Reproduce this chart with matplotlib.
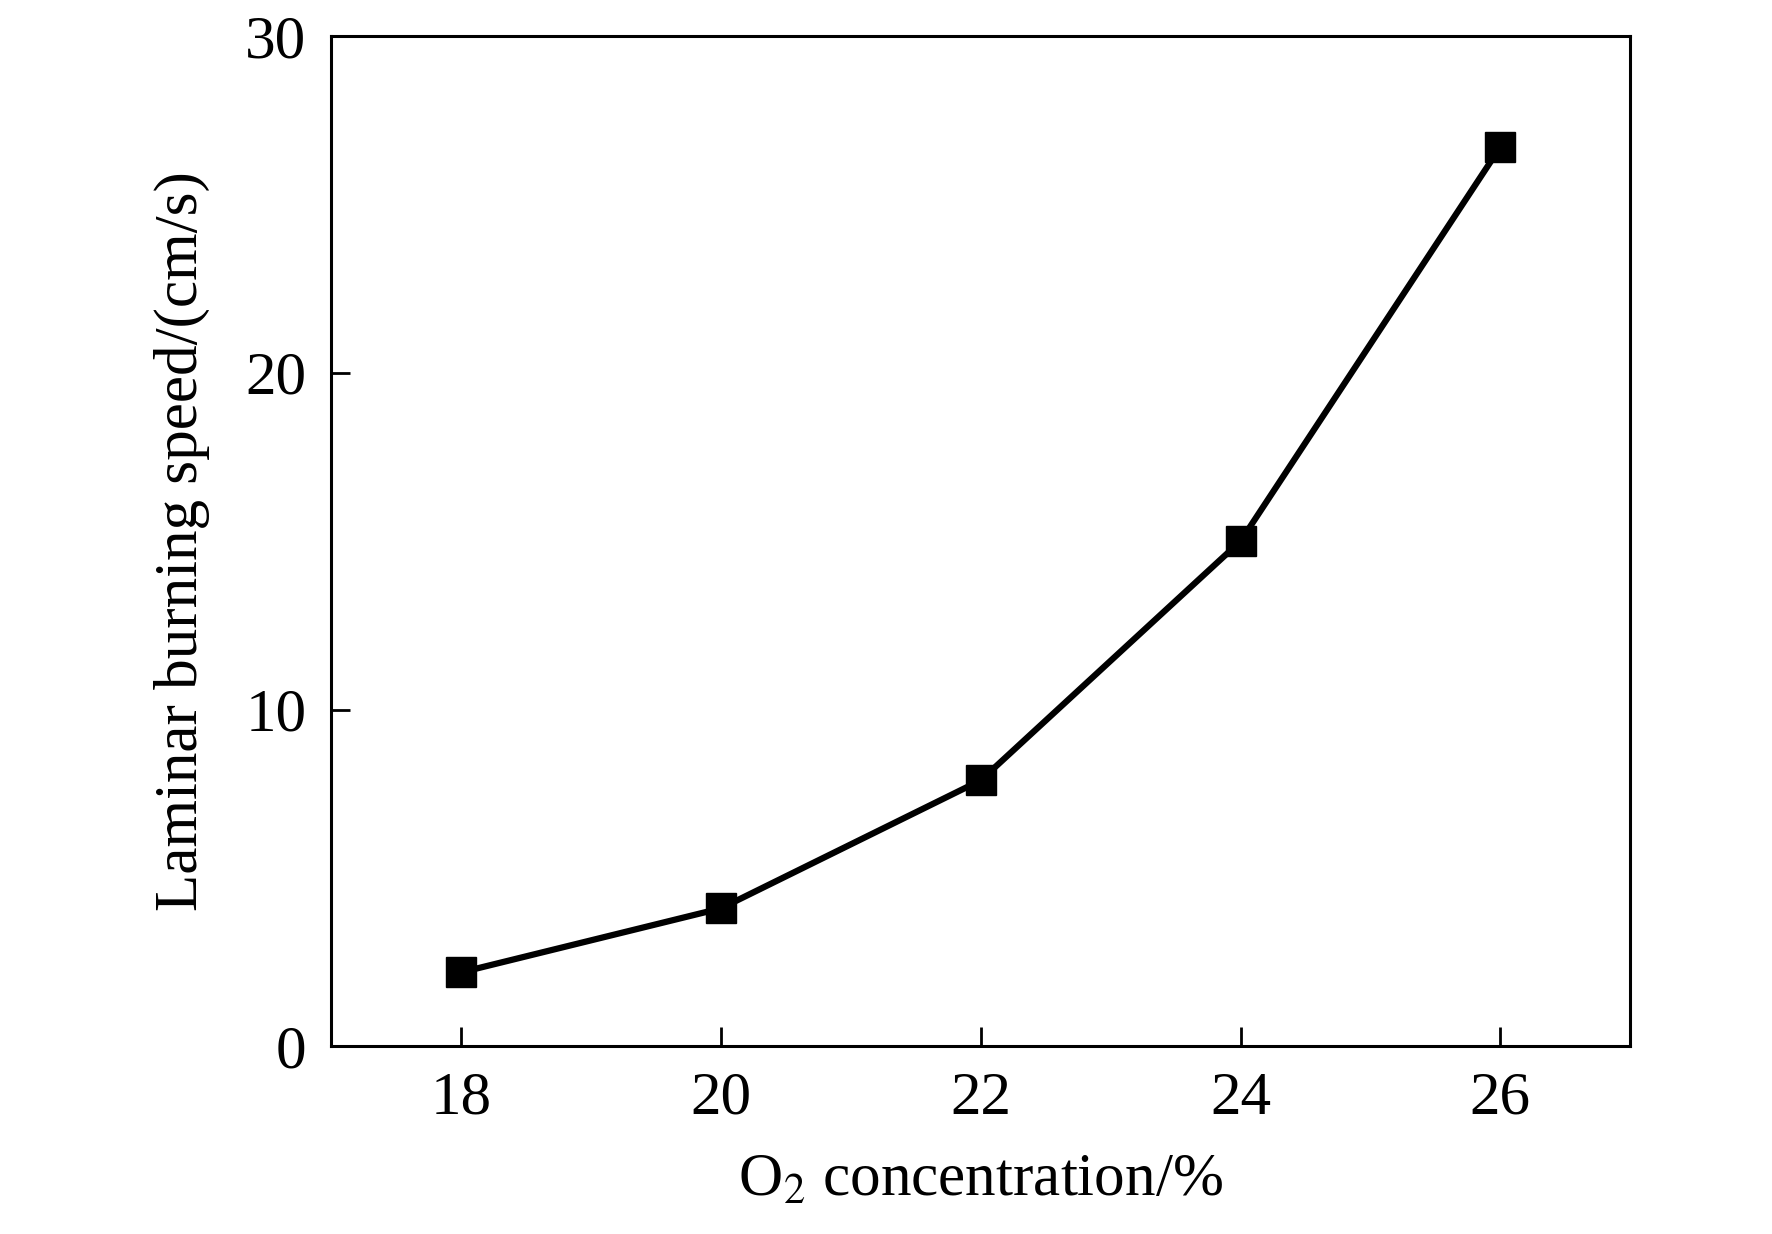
import matplotlib
matplotlib.use("Agg")
import matplotlib.pyplot as plt

# data
o2 = [18, 20, 22, 24, 26]
speed = [2.2, 4.1, 7.9, 15.0, 26.7]
xticks = [18, 20, 22, 24, 26]
yticks = [0, 10, 20, 30]

plt.rcParams['font.family'] = ['Liberation Serif', 'DejaVu Serif']
plt.rcParams['mathtext.fontset'] = 'stix'

fig = plt.figure(figsize=(17.72, 12.34), dpi=100)
ax = fig.add_axes([0.187, 0.152, 0.733, 0.819])

ax.plot(o2, speed, color='black', lw=4.5, marker='s', ms=21, mfc='black', mec='black')

ax.set_xlim(17, 27)
ax.set_ylim(0, 30)
ax.set_xticks(xticks)
ax.set_yticks(yticks)
ax.tick_params(direction='in', length=14, width=2, labelsize=44, pad=18,
               top=False, right=False)
for s in ax.spines.values():
    s.set_linewidth(2.2)

ax.set_xlabel('O$_2$ concentration/%', fontsize=44, labelpad=19)
ax.set_ylabel('Laminar burning speed/(cm/s)', fontsize=44, labelpad=25)

fig.savefig('out.png', dpi=100)
